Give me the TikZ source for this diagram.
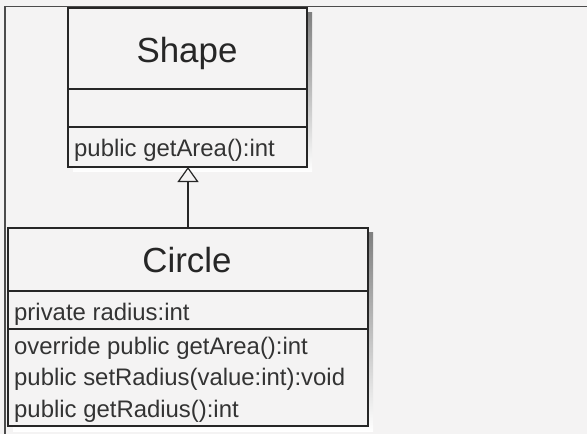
\documentclass[tikz,border=0pt]{standalone}
\usepackage{fontspec}
\setmainfont{Liberation Sans}
\usetikzlibrary{positioning,arrows.meta}
\definecolor{paper}{HTML}{F4F3F3}
\definecolor{shade}{HTML}{A0A0A0}

\tikzset{
  compart/.style={draw=black!85, line width=1.3bp, fill=paper, inner sep=0pt, outer sep=0pt, anchor=north west},
  classname/.style={anchor=base, inner sep=0pt, font=\fontsize{35}{40}\selectfont, text=black!85},
  member/.style={anchor=base west, inner sep=0pt, font=\fontsize{24}{30}\selectfont, text=black!80},
  inherit/.style={-{Triangle[open, length=15bp, width=21bp]}, line width=1.2bp, draw=black!85}
}

\begin{document}
\begin{tikzpicture}[x=1bp, y=-1bp]
\useasboundingbox (0,0) rectangle (587,434);
\fill[paper] (0,0) rectangle (587,434);
\draw[line width=1.6bp, black!70] (5,434) -- (5,6.5) -- (587,6.5);

% shadows
\fill[shade] (73,13) rectangle (312,172);
\fill[shade] (13,233) rectangle (373,431);

% Shape
\node (s1) [compart, minimum width=239bp, minimum height=81bp] at (68,8) {};
\node (s2) [compart, minimum width=239bp, minimum height=38bp, below=0pt of s1] {};
\node (s3) [compart, minimum width=239bp, minimum height=40bp, below=0pt of s2] {};
\node (shapename) [classname] at (187,63) {Shape};
\node (shapeop) [member] at (74,157) {public getArea():int};

% Circle
\node (c1) [compart, minimum width=360bp, minimum height=63bp] at (8,228) {};
\node (c2) [compart, minimum width=360bp, minimum height=38bp, below=0pt of c1] {};
\node (c3) [compart, minimum width=360bp, minimum height=97bp, below=0pt of c2] {};
\node (circlename) [classname] at (187,273) {Circle};
\node (radius) [member] at (14,320) {private radius:int};
\node (op1) [member] at (14,354) {override public getArea():int};
\node (op2) [member] at (14,385) {public setRadius(value:int):void};
\node (op3) [member] at (14,417) {public getRadius():int};

\draw [inherit] (c1.north) -- (c1.north |- s3.south);
\end{tikzpicture}
\end{document}
